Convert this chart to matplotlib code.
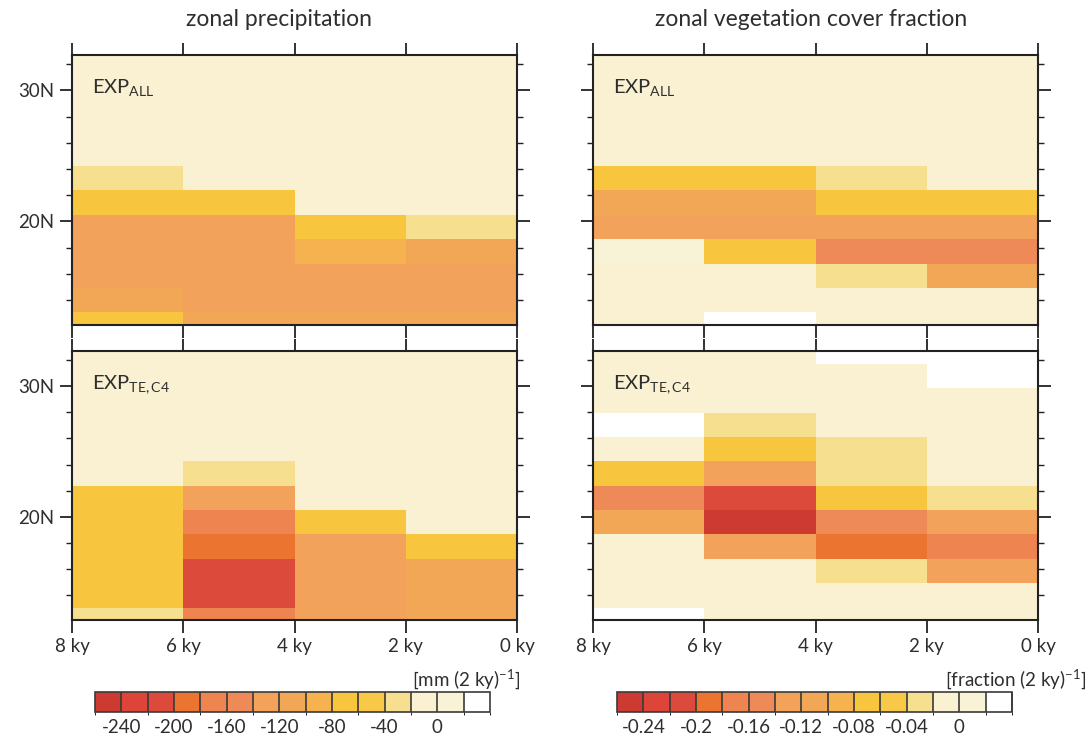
import numpy as np
import matplotlib
matplotlib.use("Agg")
import matplotlib.pyplot as plt
from matplotlib.colors import ListedColormap, BoundaryNorm

plt.rcParams['font.family'] = ['Lato', 'DejaVu Sans']
plt.rcParams['mathtext.fontset'] = 'custom'
plt.rcParams['mathtext.rm'] = 'Lato'
plt.rcParams['mathtext.it'] = 'Lato'
plt.rcParams['mathtext.bf'] = 'Lato'

TXT = '#2e2e2e'

# ---------------- data ----------------
time_centres = [7, 5, 3, 1]                    # ky BP, centre of 2-ky window
time_ticks = [8, 6, 4, 2, 0]
time_labels = ['8 ky', '6 ky', '4 ky', '2 ky', '0 ky']
lat_centres = [12.12, 13.99, 15.85, 17.72, 19.58, 21.45, 23.31,
               25.18, 27.04, 28.91, 30.77, 32.64]
lat_ticks = [20, 30]
lat_labels = ['20N', '30N']
lat_minor = [14, 16, 18, 22, 24, 26, 28, 32]

# precipitation change [mm (2 ky)^-1], rows = lat_centres (south->north), cols = time_centres
precip_all = [
    [-70, -110, -120, -120],
    [-115, -125, -125, -125],
    [-125, -125, -125, -125],
    [-130, -130, -95, -120],
    [-130, -125, -70, -30],
    [-65, -70, -10, -10],
    [-30, -5, -10, -10],
    [-10, -10, -10, -10],
    [-10, -10, -10, -10],
    [-10, -10, -10, -10],
    [-10, -10, -10, -10],
    [-5, -5, -5, -5],
]
precip_tec4 = [
    [-30, -170, -125, -120],
    [-70, -215, -125, -105],
    [-70, -215, -125, -105],
    [-70, -190, -125, -70],
    [-70, -165, -70, -10],
    [-70, -135, -10, -10],
    [-10, -30, -10, -10],
    [-10, -10, -10, -10],
    [-10, -10, -10, -10],
    [-10, -10, -10, -10],
    [-10, -10, -10, -10],
    [-5, -5, -5, -5],
]
# vegetation cover fraction change [fraction (2 ky)^-1]
veg_all = [
    [-0.005, 0.03, -0.005, -0.005],
    [-0.005, -0.005, -0.005, -0.005],
    [-0.005, -0.005, -0.03, -0.12],
    [0.005, -0.07, -0.16, -0.16],
    [-0.13, -0.13, -0.125, -0.13],
    [-0.12, -0.12, -0.07, -0.07],
    [-0.07, -0.07, -0.035, -0.005],
    [-0.005, -0.005, -0.005, -0.005],
    [-0.005, -0.005, -0.005, -0.005],
    [-0.005, -0.005, -0.005, -0.005],
    [-0.005, -0.005, -0.005, -0.005],
    [-0.005, -0.005, -0.005, -0.005],
]
veg_tec4 = [
    [0.03, -0.005, -0.005, -0.005],
    [-0.005, -0.005, -0.005, -0.005],
    [-0.005, -0.005, -0.03, -0.13],
    [-0.005, -0.13, -0.19, -0.17],
    [-0.12, -0.25, -0.16, -0.13],
    [-0.16, -0.22, -0.07, -0.03],
    [-0.07, -0.13, -0.03, -0.005],
    [-0.005, -0.07, -0.03, -0.005],
    [0.03, -0.03, -0.005, -0.005],
    [-0.005, -0.005, -0.005, -0.005],
    [-0.005, -0.005, -0.005, 0.03],
    [-0.005, -0.005, 0.03, 0.03],
]

precip_bounds = np.arange(-260, 41, 20)
precip_ticks = [-240, -200, -160, -120, -80, -40, 0]
precip_ticklabels = ['-240', '-200', '-160', '-120', '-80', '-40', '0']
veg_bounds = np.linspace(-0.26, 0.04, 16)
veg_ticks = [-0.24, -0.2, -0.16, -0.12, -0.08, -0.04, 0]
veg_ticklabels = ['-0.24', '-0.2', '-0.16', '-0.12', '-0.08', '-0.04', '0']

colors = ['#cc3a32', '#de4539', '#dc4a3c', '#ea7430', '#ee8450', '#ee8a58',
          '#f2a25a', '#f2a756', '#f5b24e', '#f8c53e', '#f8c948', '#f6df8e',
          '#f9f1d2', '#f8f2d6', '#ffffff']
cmap = ListedColormap(colors)

# ---------------- figure ----------------
W, H = 1092, 742
fig = plt.figure(figsize=(W / 100, H / 100), dpi=100)


def fpos(l, t, r, b):
    return [l / W, 1 - b / H, (r - l) / W, (b - t) / H]


panels = [
    (fpos(72, 55, 517, 325), precip_all, precip_bounds, r'EXP$_{\mathrm{ALL}}$', True, False),
    (fpos(593, 55, 1038, 325), veg_all, veg_bounds, r'EXP$_{\mathrm{ALL}}$', False, False),
    (fpos(72, 351, 517, 620), precip_tec4, precip_bounds, r'EXP$_{\mathrm{TE,C4}}$', True, True),
    (fpos(593, 351, 1038, 620), veg_tec4, veg_bounds, r'EXP$_{\mathrm{TE,C4}}$', False, True),
]

for pos, data, bounds, label, ylab, xlab in panels:
    ax = fig.add_axes(pos)
    norm = BoundaryNorm(bounds, cmap.N)
    ax.pcolormesh(time_centres, lat_centres, np.array(data), cmap=cmap, norm=norm,
                  shading='nearest')
    ax.set_xlim(8, 0)
    ax.set_ylim(12.1, 32.7)
    ax.set_xticks(time_ticks)
    ax.set_xticklabels(time_labels if xlab else [''] * 5)
    ax.set_yticks(lat_ticks)
    ax.set_yticklabels(lat_labels if ylab else ['', ''])
    ax.set_yticks(lat_minor, minor=True)
    ax.tick_params(axis='both', which='major', direction='out', top=True, right=True,
                   length=9, width=1.3, color='#222222', labelsize=13.5, labelcolor=TXT, pad=4)
    ax.tick_params(axis='y', which='minor', direction='out', left=True, right=True,
                   length=4.5, width=1.0, color='#222222')
    ax.tick_params(axis='x', which='minor', length=0)
    for s in ax.spines.values():
        s.set_linewidth(1.5)
        s.set_color('#222222')
    ax.text(0.045, 0.86, label, transform=ax.transAxes, fontsize=14.5, color=TXT,
            ha='left', va='baseline')

fig.text(279 / W, 1 - 20 / H, 'zonal precipitation', ha='center', va='center',
         fontsize=16.5, color=TXT)
fig.text(811 / W, 1 - 20 / H, 'zonal vegetation cover fraction', ha='center', va='center',
         fontsize=16.5, color=TXT)

# colorbars
for (l, r), bounds, ticks, tlabels, unit, ux in [
        ((95, 490), precip_bounds, precip_ticks, precip_ticklabels,
         r'[mm (2 ky)$^{\mathregular{-1}}$]', 520),
        ((617, 1012), veg_bounds, veg_ticks, veg_ticklabels,
         r'[fraction (2 ky)$^{\mathregular{-1}}$]', 1086)]:
    cax = fig.add_axes(fpos(l, 692, r, 712))
    norm = BoundaryNorm(bounds, cmap.N)
    sm = matplotlib.cm.ScalarMappable(norm=norm, cmap=cmap)
    cb = fig.colorbar(sm, cax=cax, orientation='horizontal', drawedges=True,
                      boundaries=bounds, spacing='uniform')
    cb.dividers.set_color('#3a3a3a')
    cb.dividers.set_linewidth(1.2)
    cb.outline.set_edgecolor('#3a3a3a')
    cb.outline.set_linewidth(1.2)
    cb.set_ticks(ticks)
    cb.set_ticklabels(tlabels)
    cax.tick_params(length=0, labelsize=13.5, labelcolor=TXT, pad=5)
    fig.text(ux / W, 1 - 679 / H, unit, ha='right', va='center', fontsize=13.5, color=TXT)

fig.savefig('out.png', dpi=100)
